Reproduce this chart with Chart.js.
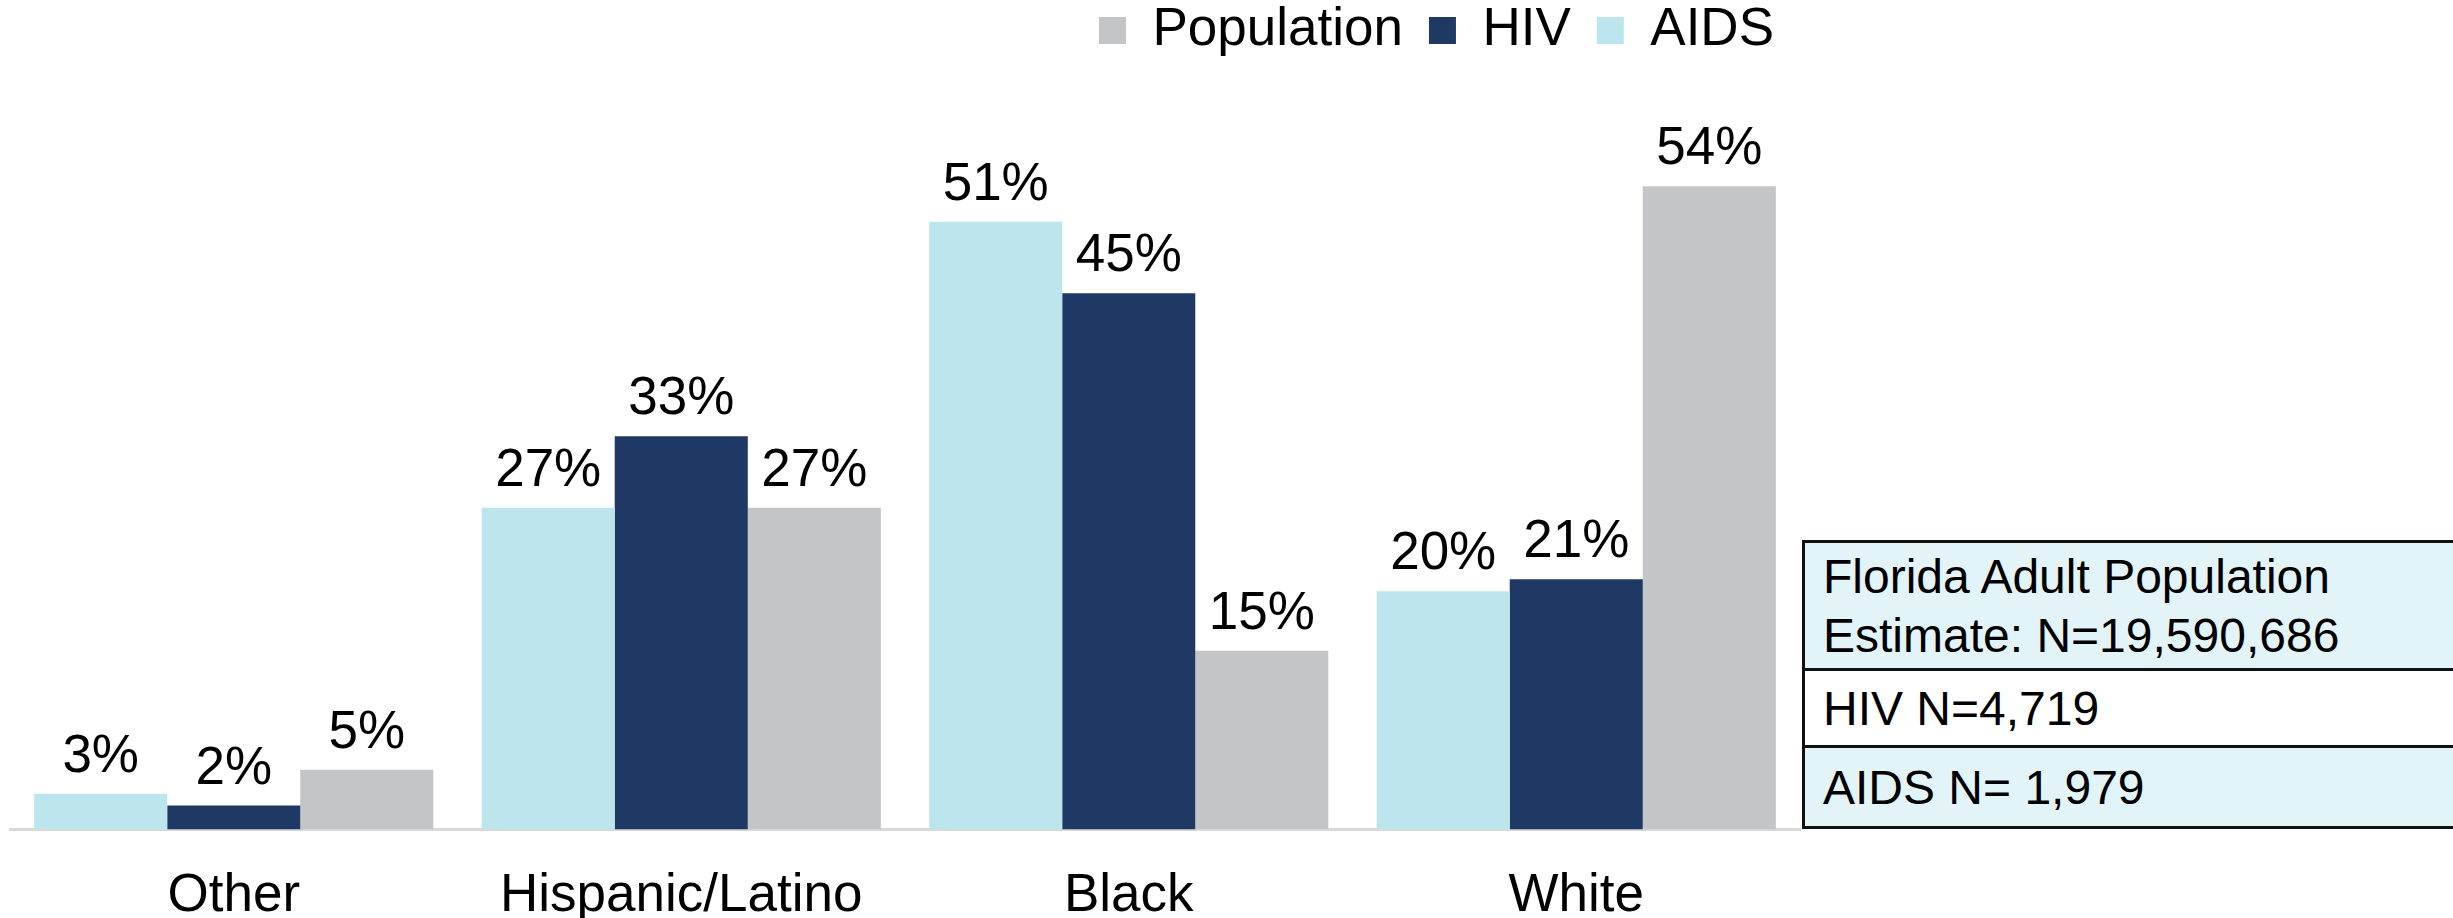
<!DOCTYPE html>
<html>
<head>
<meta charset="utf-8">
<script src="https://cdn.jsdelivr.net/npm/chart.js@4"></script>
<style>
  body { margin: 0; background: #fff; }
  #wrap { position: relative; width: 2453px; height: 918px; }
  #notes {
    position: absolute; left: 1802px; top: 540px; width: 660px;
    border: 3px solid #111; border-right: none; box-sizing: border-box;
    font-family: "Liberation Sans", Arial, sans-serif; font-size: 48px; color: #000;
  }
  #notes div { padding-left: 18px; box-sizing: border-box; display: flex; align-items: center; }
  #notes .r1 { height: 128px; background: #e2f4f8; line-height: 59px; border-bottom: 3px solid #111; }
  #notes .r2 { height: 77px; background: #fff; border-bottom: 3px solid #111; }
  #notes .r3 { height: 78px; background: #e2f4f8; }
</style>
</head>
<body>
<div id="wrap">
  <canvas id="chart"></canvas>
  <div id="notes">
    <div class="r1">Florida Adult Population<br>Estimate: N=19,590,686</div>
    <div class="r2">HIV N=4,719</div>
    <div class="r3">AIDS N= 1,979</div>
  </div>
</div>
<script>
const categories = ['Other', 'Hispanic/Latino', 'Black', 'White'];
const aidsValues = [3, 27, 51, 20];
const hivValues = [2, 33, 45, 21];
const populationValues = [5, 27, 15, 54];

const font = '"Liberation Sans", Arial, sans-serif';

// draws the "NN%" label above each bar
const barLabels = {
    id: 'barLabels',
    afterDatasetsDraw(chart) {
        const ctx = chart.ctx;
        ctx.save();
        ctx.font = '53px ' + font;
        ctx.fillStyle = '#000';
        ctx.textAlign = 'center';
        ctx.textBaseline = 'alphabetic';
        chart.data.datasets.forEach((ds, i) => {
            chart.getDatasetMeta(i).data.forEach((bar, j) => {
                ctx.fillText(ds.data[j] + '%', bar.x, bar.y - 22);
            });
        });
        ctx.restore();
    }
};

new Chart(document.getElementById('chart'), {
    type: 'bar',
    data: {
        labels: categories,
        datasets: [
            { label: 'AIDS', data: aidsValues, backgroundColor: '#bde5ee' },
            { label: 'HIV', data: hivValues, backgroundColor: '#203864' },
            { label: 'Population', data: populationValues, backgroundColor: '#c4c5c7' }
        ]
    },
    options: {
        responsive: true,
        maintainAspectRatio: false,
        animation: false,
        datasets: { bar: { categoryPercentage: 0.892, barPercentage: 1 } },
        layout: { padding: { left: 10, right: 653, top: -22, bottom: -45 } },
        plugins: {
            tooltip: { enabled: false },
            legend: {
                position: 'top',
                align: 'end',
                reverse: true,
                labels: {
                    boxWidth: 27,
                    boxHeight: 27,
                    padding: 26,
                    color: '#000',
                    font: { family: font, size: 53 }
                }
            }
        },
        scales: {
            x: {
                grid: { display: false, drawTicks: false },
                border: { color: '#d9d9d9', width: 3 },
                ticks: {
                    color: '#000',
                    padding: 35,
                    autoSkip: false,
                    maxRotation: 0,
                    font: { family: font, size: 53 }
                }
            },
            y: {
                display: false,
                min: 0,
                max: 64
            }
        }
    },
    plugins: [barLabels]
});
</script>
</body>
</html>
